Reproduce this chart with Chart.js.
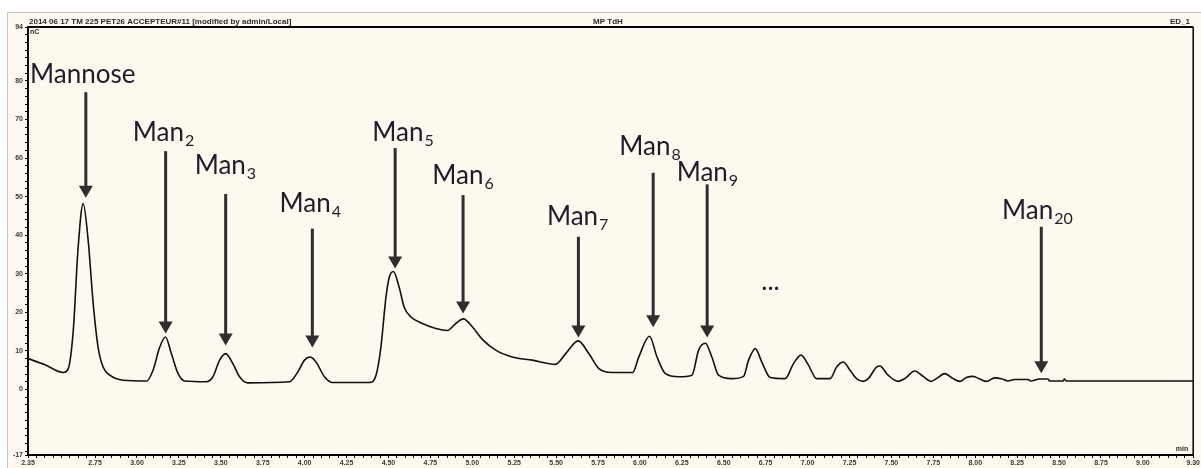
<!DOCTYPE html>
<html>
<head>
<meta charset="utf-8">
<title>Chromatogram</title>
<script src="https://cdn.jsdelivr.net/npm/chart.js@4.4.1/dist/chart.umd.min.js"></script>
<style>
  html, body { margin: 0; padding: 0; background: #fff; }
  #wrap { width: 1201px; height: 468px; position: relative; }
</style>
</head>
<body>
<div id="wrap"><canvas id="chrom"></canvas></div>
<script>
// retention time (min) and detector signal
const times = [
    2.350, 2.451, 2.560, 2.590, 2.620, 2.649, 2.679, 2.709, 2.739, 2.768,
    2.798, 2.838, 2.917, 3.057, 3.096, 3.136, 3.170, 3.205, 3.245, 3.285,
    3.414, 3.453, 3.493, 3.529, 3.572, 3.612, 3.661, 3.910, 3.959, 3.999,
    4.033, 4.068, 4.118, 4.167, 4.386, 4.426, 4.455, 4.485, 4.505, 4.529,
    4.564, 4.594, 4.634, 4.703, 4.783, 4.852, 4.902, 4.947, 5.001, 5.060,
    5.140, 5.239, 5.358, 5.497, 5.557, 5.632, 5.695, 5.755, 5.834, 5.957,
    5.993, 6.057, 6.102, 6.152, 6.231, 6.310, 6.350, 6.390, 6.429, 6.469,
    6.548, 6.618, 6.648, 6.688, 6.727, 6.777, 6.866, 6.916, 6.961, 7.005,
    7.054, 7.134, 7.173, 7.213, 7.253, 7.292, 7.332, 7.362, 7.411, 7.431,
    7.480, 7.540, 7.580, 7.639, 7.689, 7.738, 7.768, 7.818, 7.868, 7.908,
    7.947, 7.987, 8.027, 8.067, 8.116, 8.156, 8.195, 8.235, 8.315, 8.330,
    8.384, 8.433, 8.444, 8.523, 8.533, 8.542, 9.300
];
const signal = [
    8.0, 6.4, 4.4, 5.4, 15.3, 36.8, 48.2, 38.6, 22.2, 11.0,
    5.8, 3.7, 2.4, 2.2, 5.0, 11.0, 13.6, 9.3, 4.1, 2.2,
    2.0, 3.3, 7.6, 9.3, 6.7, 3.3, 1.7, 2.0, 4.5, 7.6,
    8.4, 7.1, 3.3, 1.8, 1.8, 3.7, 11.0, 23.9, 29.1, 30.6,
    26.5, 21.3, 18.8, 17.1, 15.8, 15.3, 17.1, 18.3, 16.2, 13.0,
    10.2, 8.4, 7.6, 6.5, 9.3, 12.6, 9.3, 5.4, 4.4, 4.4,
    8.4, 13.8, 8.4, 4.1, 3.3, 3.7, 10.2, 12.0, 8.4, 3.7,
    2.8, 3.4, 7.6, 10.6, 7.1, 3.1, 2.8, 6.7, 8.9, 6.3,
    2.8, 2.8, 5.8, 7.1, 5.0, 2.8, 2.1, 2.8, 5.8, 6.1,
    3.7, 2.1, 2.8, 4.8, 3.4, 2.1, 2.8, 4.1, 2.8, 2.1,
    3.1, 3.4, 2.7, 2.1, 3.0, 2.8, 2.2, 2.6, 2.6, 2.2,
    2.7, 2.7, 2.2, 2.2, 2.7, 2.2, 2.2
];

// labelled ticks
const xLabelTicks = [2.35, 2.75, 3.00, 3.25, 3.50, 3.75, 4.00, 4.25, 4.50, 4.75,
    5.00, 5.25, 5.50, 5.75, 6.00, 6.25, 6.50, 6.75, 7.00, 7.25, 7.50, 7.75,
    8.00, 8.25, 8.50, 8.75, 9.00, 9.30];
const yLabelTicks = [-17, 0, 10, 20, 30, 40, 50, 60, 70, 80, 94];

// peak names, label anchor (time, level) and arrow (time, top, tip)
const peakNames = ["Mannose", "Man", "Man", "Man", "Man", "Man", "Man", "Man", "Man", "Man"];
const peakSubs = ["", "2", "3", "4", "5", "6", "7", "8", "9", "20"];
const labelTimes = [2.362, 2.975, 3.344, 3.850, 4.404, 4.761, 5.445, 5.877, 6.219, 8.160];
const labelLevels = [79.4, 64.4, 55.9, 45.9, 64.4, 53.3, 42.7, 60.9, 54.1, 44.1];
const arrowTimes = [2.695, 3.171, 3.529, 4.046, 4.540, 4.945, 5.633, 6.079, 6.401, 8.394];
const arrowTops = [77.1, 61.8, 50.7, 41.7, 62.6, 50.4, 39.6, 56.2, 53.2, 42.2];
const arrowTips = [49.7, 14.5, 11.4, 10.9, 31.4, 19.7, 13.5, 16.1, 13.5, 4.2];
const dotsTime = 6.779;
const dotsLevel = 25.9;

const tickFont = { family: "Liberation Sans", size: 7, weight: "bold" };
const labelFont = "Lato";

function isLabelled(list, v) {
    return list.some(t => Math.abs(t - v) < 1e-6);
}

// cream panel, header line and captions
const framePlugin = {
    id: "frame",
    beforeDraw(chart) {
        const c = chart.ctx;
        const w = chart.width, h = chart.height;
        c.save();
        c.fillStyle = "#ffffff";
        c.fillRect(0, 0, w, h);
        c.fillStyle = "#fdf9ee";
        c.fillRect(7, 12, w - 7, h - 12);
        c.strokeStyle = "#c4c2bc";
        c.lineWidth = 1;
        c.beginPath();
        c.moveTo(7.5, h);
        c.lineTo(7.5, 12.5);
        c.lineTo(w, 12.5);
        c.stroke();

        c.fillStyle = "#2a2a2a";
        c.font = "bold 8px 'Liberation Sans'";
        c.textBaseline = "alphabetic";
        c.textAlign = "left";
        c.fillText("2014 06 17 TM 225 PET26 ACCEPTEUR#11 [modified by admin/Local]", 29, 24);
        c.textAlign = "center";
        c.fillText("MP TdH", 608, 24);
        c.textAlign = "right";
        c.fillText("ED_1", 1190, 24);
        c.restore();
    },
    afterDraw(chart) {
        const c = chart.ctx;
        const a = chart.chartArea;
        c.save();
        c.strokeStyle = "#000";
        c.lineWidth = 2;
        c.beginPath();
        c.moveTo(a.left, a.top);
        c.lineTo(a.right, a.top);
        c.stroke();
        c.lineWidth = 1.5;
        c.beginPath();
        c.moveTo(a.right, a.top);
        c.lineTo(a.right, a.bottom);
        c.stroke();

        c.fillStyle = "#2a2a2a";
        c.font = "bold 7px 'Liberation Sans'";
        c.textAlign = "left";
        c.fillText("nC", a.left + 2, a.top + 7);
        c.textAlign = "right";
        c.fillText("min", a.right - 5, a.bottom - 4);
        c.restore();
    }
};

// peak names with their arrows
const peakPlugin = {
    id: "peaks",
    afterDatasetsDraw(chart) {
        const c = chart.ctx;
        const xs = chart.scales.x, ys = chart.scales.y;
        c.save();
        peakNames.forEach((name, i) => {
            const lx = xs.getPixelForValue(labelTimes[i]);
            const ly = ys.getPixelForValue(labelLevels[i]);
            c.fillStyle = "#1d1d2b";
            c.textAlign = "left";
            c.textBaseline = "alphabetic";
            c.font = "26px " + labelFont;
            c.fillText(name, lx, ly);
            if (peakSubs[i]) {
                const w = c.measureText(name).width;
                c.font = "16px " + labelFont;
                c.fillText(peakSubs[i], lx + w + 1, ly + 5);
            }

            const ax = xs.getPixelForValue(arrowTimes[i]);
            const top = ys.getPixelForValue(arrowTops[i]);
            const tip = ys.getPixelForValue(arrowTips[i]);
            c.strokeStyle = "#2e2e2e";
            c.fillStyle = "#2e2e2e";
            c.lineWidth = 3;
            c.beginPath();
            c.moveTo(ax, top);
            c.lineTo(ax, tip - 10);
            c.stroke();
            c.beginPath();
            c.moveTo(ax - 7, tip - 12);
            c.lineTo(ax + 7, tip - 12);
            c.lineTo(ax, tip);
            c.closePath();
            c.fill();
        });
        c.fillStyle = "#1d1d2b";
        c.textAlign = "center";
        c.font = "26px " + labelFont;
        c.fillText("...", xs.getPixelForValue(dotsTime), ys.getPixelForValue(dotsLevel));
        c.restore();
    }
};

const ctx = document.getElementById("chrom");

new Chart(ctx, {
    type: "line",
    data: {
        datasets: [{
            data: times.map((t, i) => ({ x: t, y: signal[i] })),
            borderColor: "#111",
            borderWidth: 1.6,
            pointRadius: 0,
            cubicInterpolationMode: "monotone",
            fill: false
        }]
    },
    options: {
        responsive: true,
        maintainAspectRatio: false,
        animation: false,
        layout: {
            padding: { top: 27, right: 5, left: 0, bottom: 0 }
        },
        plugins: {
            legend: { display: false },
            tooltip: { enabled: false }
        },
        scales: {
            x: {
                type: "linear",
                min: 2.35,
                max: 9.30,
                afterBuildTicks(scale) {
                    const ticks = [];
                    for (let i = 47; i <= 186; i++) {
                        ticks.push({ value: Math.round(i * 5) / 100 });
                    }
                    scale.ticks = ticks;
                },
                afterFit(scale) {
                    scale.height = 13;
                },
                grid: {
                    drawOnChartArea: false,
                    tickLength: 3,
                    tickColor: "#000",
                    tickWidth: 1
                },
                border: { color: "#000", width: 2 },
                ticks: {
                    autoSkip: false,
                    minRotation: 0,
                    maxRotation: 0,
                    padding: 1,
                    font: tickFont,
                    color: "#3a3a3a",
                    callback: v => isLabelled(xLabelTicks, v) ? v.toFixed(2) : ""
                }
            },
            y: {
                type: "linear",
                min: -17,
                max: 94,
                afterBuildTicks(scale) {
                    const ticks = [{ value: -17 }];
                    for (let v = -16; v <= 94; v += 2) {
                        ticks.push({ value: v });
                    }
                    scale.ticks = ticks;
                },
                afterFit(scale) {
                    scale.width = 28;
                },
                grid: {
                    drawOnChartArea: false,
                    tickLength: 3,
                    tickColor: "#000",
                    tickWidth: 1
                },
                border: { color: "#000", width: 2 },
                ticks: {
                    autoSkip: false,
                    padding: 2,
                    font: tickFont,
                    color: "#3a3a3a",
                    callback: v => isLabelled(yLabelTicks, v) ? String(v) : ""
                }
            }
        }
    },
    plugins: [framePlugin, peakPlugin]
});
</script>
</body>
</html>
